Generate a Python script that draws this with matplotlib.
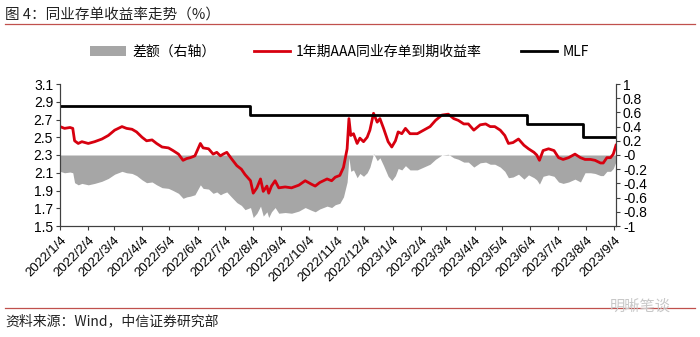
import numpy as np
import pandas as pd
import matplotlib
matplotlib.use("Agg")
import matplotlib.pyplot as plt
from matplotlib.patches import Patch
from matplotlib.lines import Line2D

plt.rcParams['font.family'] = ['Liberation Sans', 'Noto Sans CJK SC', 'DejaVu Sans']
plt.rcParams['axes.unicode_minus'] = False

# 1年期AAA同业存单到期收益率 (%)
ncd_dates = [
    "2022-01-04", "2022-01-09", "2022-01-15", "2022-01-18", "2022-01-20", "2022-01-24",
    "2022-01-28", "2022-02-04", "2022-02-11", "2022-02-19", "2022-02-26", "2022-03-05",
    "2022-03-13", "2022-03-18", "2022-03-24", "2022-03-29", "2022-04-04", "2022-04-09",
    "2022-04-15", "2022-04-20", "2022-04-26", "2022-05-03", "2022-05-08", "2022-05-14",
    "2022-05-19", "2022-05-23", "2022-05-27", "2022-06-01", "2022-06-07", "2022-06-10",
    "2022-06-16", "2022-06-21", "2022-06-25", "2022-06-29", "2022-07-02", "2022-07-06",
    "2022-07-11", "2022-07-17", "2022-07-22", "2022-07-26", "2022-08-01", "2022-08-04",
    "2022-08-08", "2022-08-12", "2022-08-15", "2022-08-19", "2022-08-21", "2022-08-24",
    "2022-08-28", "2022-09-01", "2022-09-08", "2022-09-15", "2022-09-23", "2022-09-30",
    "2022-10-07", "2022-10-11", "2022-10-16", "2022-10-24", "2022-10-29", "2022-11-02",
    "2022-11-07", "2022-11-11", "2022-11-15", "2022-11-17", "2022-11-19", "2022-11-22",
    "2022-11-26", "2022-11-29", "2022-12-03", "2022-12-07", "2022-12-10", "2022-12-14",
    "2022-12-18", "2022-12-21", "2022-12-25", "2022-12-30", "2023-01-03", "2023-01-07",
    "2023-01-10", "2023-01-14", "2023-01-18", "2023-01-23", "2023-01-31", "2023-02-07",
    "2023-02-14", "2023-02-20", "2023-02-27", "2023-03-06", "2023-03-12", "2023-03-17",
    "2023-03-23", "2023-03-28", "2023-04-03", "2023-04-10", "2023-04-16", "2023-04-21",
    "2023-04-26", "2023-05-02", "2023-05-07", "2023-05-11", "2023-05-16", "2023-05-22",
    "2023-05-28", "2023-06-02", "2023-06-08", "2023-06-11", "2023-06-14", "2023-06-18",
    "2023-06-24", "2023-06-30", "2023-07-05", "2023-07-10", "2023-07-16", "2023-07-23",
    "2023-07-29", "2023-08-03", "2023-08-09", "2023-08-14", "2023-08-20", "2023-08-23",
    "2023-08-27", "2023-08-31", "2023-09-03", "2023-09-06",
]
ncd_values = [
    2.62, 2.60, 2.61, 2.60, 2.46, 2.43,
    2.45, 2.43, 2.45, 2.48, 2.52, 2.58,
    2.62, 2.60, 2.59, 2.56, 2.50, 2.46,
    2.47, 2.43, 2.39, 2.38, 2.35, 2.31,
    2.24, 2.26, 2.27, 2.29, 2.43, 2.38,
    2.37, 2.31, 2.33, 2.29, 2.31, 2.33,
    2.26, 2.18, 2.14, 2.08, 2.01, 1.87,
    1.93, 2.03, 1.89, 1.95, 1.87, 1.95,
    2.01, 1.93, 1.94, 1.93, 1.96, 2.01,
    1.97, 1.95, 1.99, 2.03, 2.01, 2.05,
    2.07, 2.16, 2.37, 2.71, 2.52, 2.54,
    2.43, 2.49, 2.45, 2.50, 2.58, 2.77,
    2.67, 2.71, 2.60, 2.45, 2.39, 2.46,
    2.56, 2.54, 2.60, 2.54, 2.54, 2.58,
    2.62, 2.69, 2.75, 2.76, 2.71, 2.69,
    2.65, 2.65, 2.58, 2.64, 2.65, 2.62,
    2.62, 2.58, 2.52, 2.43, 2.44, 2.48,
    2.41, 2.37, 2.33, 2.30, 2.24, 2.35,
    2.37, 2.35, 2.27, 2.25, 2.27, 2.31,
    2.27, 2.25, 2.25, 2.24, 2.21, 2.21,
    2.27, 2.27, 2.31, 2.41,
]

# MLF利率 (%), 每次调整的起始日期
mlf_dates = ["2022-01-04", "2022-07-31", "2023-05-31", "2023-08-01"]
mlf_values = [2.85, 2.75, 2.65, 2.50]

start = pd.Timestamp("2022-01-04")
end = pd.Timestamp("2023-09-06")

ncd_x = pd.to_datetime(ncd_dates)
ncd_y = np.array(ncd_values)
mlf_x = pd.to_datetime(mlf_dates)
mlf_y = np.array(mlf_values)

# 差额 = 同业存单收益率 - 当日MLF利率
idx = np.searchsorted(mlf_x.values, ncd_x.values, side="right") - 1
spread = ncd_y - mlf_y[idx]

mlf_plot_x = list(mlf_x) + [end]
mlf_plot_y = list(mlf_y) + [mlf_y[-1]]

fig = plt.figure(figsize=(7.0, 3.37), dpi=100)
ax = fig.add_axes([60 / 700, 1 - 226 / 337, (616 - 60) / 700, (226 - 84) / 337])
ax2 = ax.twinx()

red = "#d7000f"
gray = "#a6a6a6"

ax2.fill_between(ncd_x, 0, spread, color=gray, linewidth=0)
ax.plot(ncd_x, ncd_y, color=red, lw=2.0, solid_joinstyle="round")
ax.plot(mlf_plot_x, mlf_plot_y, color="black", lw=2.0, drawstyle="steps-post")

ax.set_zorder(ax2.get_zorder() + 1)
ax.patch.set_visible(False)

ax.set_xlim(start, end)
ax.set_ylim(1.5, 3.1)
ax2.set_ylim(-1, 1)
ax.set_yticks(np.arange(1.5, 3.11, 0.2))
ax.set_yticklabels([f"{v:.1f}" for v in np.arange(1.5, 3.11, 0.2)])
r_ticks = np.round(np.arange(-1, 1.01, 0.2), 1)
ax2.set_yticks(r_ticks)
ax2.set_yticklabels([f"{v:g}" for v in r_ticks])

# 每月4日一个刻度
tick_dates = pd.date_range("2022-01-01", "2023-09-01", freq="MS") + pd.Timedelta(days=3)
ax.set_xticks(tick_dates)
ax.set_xticklabels([f"{d.year}/{d.month}/{d.day}" for d in tick_dates],
                   rotation=45, ha="right", rotation_mode="anchor", fontsize=9.5)

for a in (ax, ax2):
    a.spines["top"].set_visible(False)
    for s in a.spines.values():
        s.set_linewidth(0.8)
        s.set_color("#404040")
    a.tick_params(direction="out", length=3, width=0.8, color="#404040",
                  labelsize=10, pad=2)
ax.tick_params(axis="x", labelsize=9.5, pad=3)

handles = [
    Patch(facecolor=gray, edgecolor="none"),
    Line2D([], [], color=red, lw=2.0),
    Line2D([], [], color="black", lw=2.0),
]
labels = ["差额（右轴）", "1年期AAA同业存单到期收益率", "MLF"]
fig.legend(handles, labels, loc="center", bbox_to_anchor=(0.485, 1 - 52 / 337),
           ncol=3, frameon=False, handlelength=2.6,
           columnspacing=2.8, handletextpad=0.4,
           prop={"family": ["Noto Sans CJK SC"], "size": 10})

fig.text(5 / 700, 1 - 15 / 337, "图 4：同业存单收益率走势（%）", fontsize=10.5,
         family=["Noto Sans CJK SC"], va="center", ha="left", color="#222222")
fig.add_artist(Line2D([5 / 700, 695 / 700], [1 - 24 / 337, 1 - 24 / 337],
                      color="#c0504d", lw=0.9))
fig.add_artist(Line2D([5 / 700, 695 / 700], [1 - 308 / 337, 1 - 308 / 337],
                      color="#c0504d", lw=0.9))
fig.text(5 / 700, 1 - 321 / 337, "资料来源：Wind，中信证券研究部", fontsize=10,
         family=["Noto Sans CJK SC"], va="center", ha="left", color="#222222")
fig.text(640 / 700, 1 - 306 / 337, "明晰笔谈", fontsize=11,
         family=["Noto Sans CJK SC"], va="center", ha="center", color="#c8c8c8")

fig.savefig("out.png", dpi=100)
